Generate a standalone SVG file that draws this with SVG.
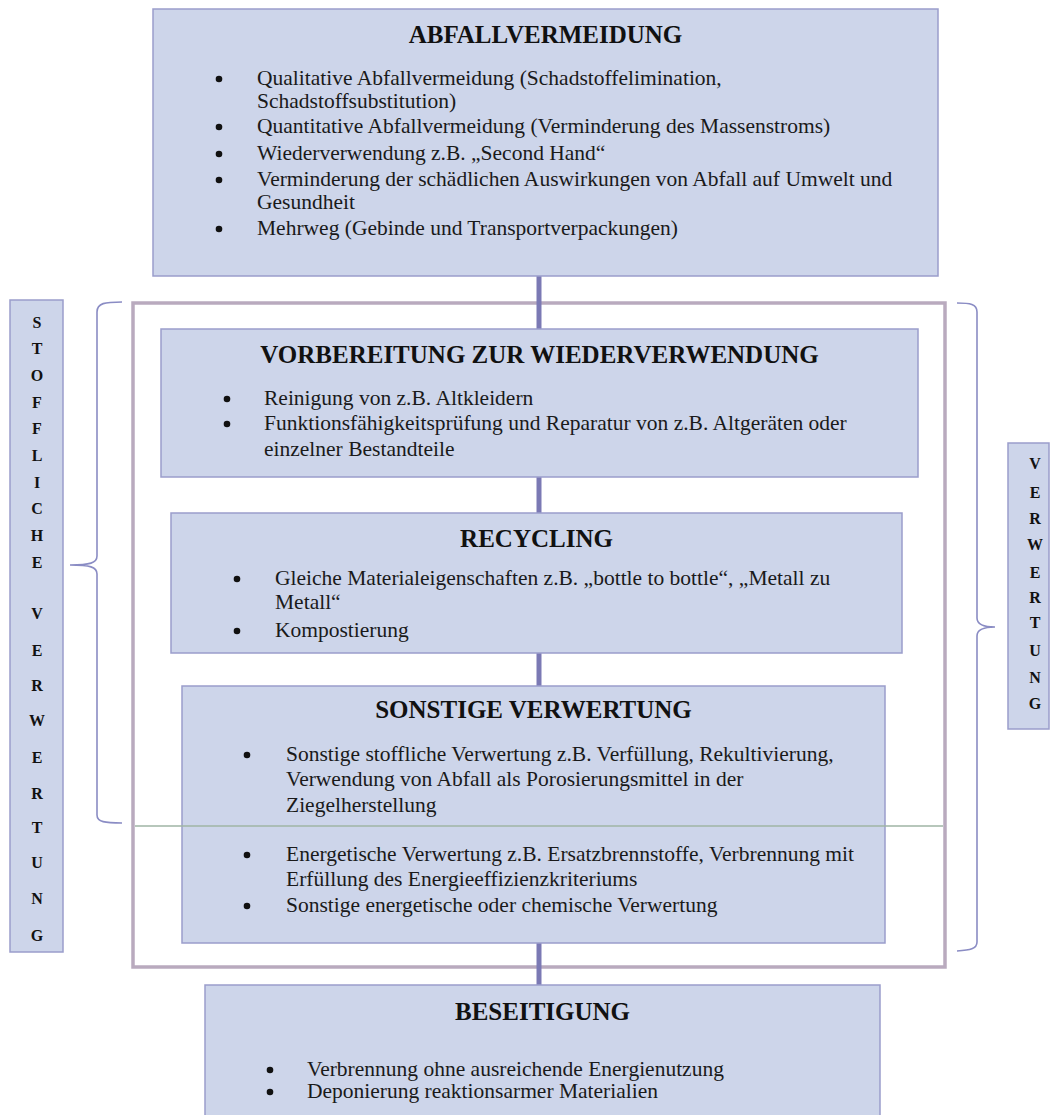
<svg xmlns="http://www.w3.org/2000/svg" width="1050" height="1115" viewBox="0 0 1050 1115">
<defs>
<style>
.box{fill:#cdd5ea;stroke:#9a9dcb;stroke-width:1.5}
.title{font-family:"Liberation Serif","Times New Roman",serif;font-weight:bold;font-size:25px;fill:#111;text-anchor:middle}
.t{font-family:"Liberation Serif","Times New Roman",serif;font-size:21.5px;fill:#1a1a1a}
.bul{fill:#111}
.lab{font-family:"Liberation Serif","Times New Roman",serif;font-weight:bold;font-size:16px;fill:#111;text-anchor:middle}
.conn{stroke:#7b79b4;stroke-width:5;fill:none}
.brace{stroke:#8a8cc4;stroke-width:1.6;fill:none}
</style>
</defs>
<rect width="1050" height="1115" fill="#ffffff"/>

<g id="frame">
<rect x="133" y="303" width="812" height="664" fill="none" stroke="#b9aabe" stroke-width="3.5"/>
</g>

<g id="connectors">
<line class="conn" x1="539" y1="276" x2="539" y2="329"/>
<line class="conn" x1="539" y1="477" x2="539" y2="513"/>
<line class="conn" x1="539" y1="653" x2="539" y2="686"/>
<line class="conn" x1="539" y1="943" x2="539" y2="985"/>
</g>

<g id="abfallvermeidung">
<rect class="box" x="153" y="9" width="785" height="267"/>
<text class="title" x="545.5" y="43">ABFALLVERMEIDUNG</text>
<circle class="bul" cx="219" cy="79" r="3.3"/>
<text class="t" x="257" y="85">Qualitative Abfallvermeidung (Schadstoffelimination,</text>
<text class="t" x="257" y="108">Schadstoffsubstitution)</text>
<circle class="bul" cx="219" cy="127" r="3.3"/>
<text class="t" x="257" y="133">Quantitative Abfallvermeidung (Verminderung des Massenstroms)</text>
<circle class="bul" cx="219" cy="154" r="3.3"/>
<text class="t" x="257" y="160">Wiederverwendung z.B. „Second Hand“</text>
<circle class="bul" cx="219" cy="180" r="3.3"/>
<text class="t" x="257" y="186">Verminderung der schädlichen Auswirkungen von Abfall auf Umwelt und</text>
<text class="t" x="257" y="209">Gesundheit</text>
<circle class="bul" cx="219" cy="229" r="3.3"/>
<text class="t" x="257" y="235">Mehrweg (Gebinde und Transportverpackungen)</text>
</g>

<g id="vorbereitung">
<rect class="box" x="161" y="329" width="757" height="148"/>
<text class="title" x="539.5" y="363">VORBEREITUNG ZUR WIEDERVERWENDUNG</text>
<circle class="bul" cx="227" cy="399" r="3.3"/>
<text class="t" x="264" y="405">Reinigung von z.B. Altkleidern</text>
<circle class="bul" cx="227" cy="424" r="3.3"/>
<text class="t" x="264" y="430">Funktionsfähigkeitsprüfung und Reparatur von z.B. Altgeräten oder</text>
<text class="t" x="264" y="456">einzelner Bestandteile</text>
</g>

<g id="recycling">
<rect class="box" x="171" y="513" width="731" height="140"/>
<text class="title" x="536.5" y="547">RECYCLING</text>
<circle class="bul" cx="237" cy="579" r="3.3"/>
<text class="t" x="275" y="585">Gleiche Materialeigenschaften z.B. „bottle to bottle“, „Metall zu</text>
<text class="t" x="275" y="609">Metall“</text>
<circle class="bul" cx="237" cy="631" r="3.3"/>
<text class="t" x="275" y="637">Kompostierung</text>
</g>

<g id="sonstige">
<rect class="box" x="182" y="686" width="703" height="257"/>
<text class="title" x="533.5" y="718">SONSTIGE VERWERTUNG</text>
<circle class="bul" cx="247" cy="755" r="3.3"/>
<text class="t" x="286" y="761">Sonstige stoffliche Verwertung z.B. Verfüllung, Rekultivierung,</text>
<text class="t" x="286" y="786">Verwendung von Abfall als Porosierungsmittel in der</text>
<text class="t" x="286" y="812">Ziegelherstellung</text>
<circle class="bul" cx="247" cy="855" r="3.3"/>
<text class="t" x="286" y="861">Energetische Verwertung z.B. Ersatzbrennstoffe, Verbrennung mit</text>
<text class="t" x="286" y="886">Erfüllung des Energieeffizienzkriteriums</text>
<circle class="bul" cx="247" cy="906" r="3.3"/>
<text class="t" x="286" y="912">Sonstige energetische oder chemische Verwertung</text>
</g>

<g id="divider">
<line x1="135" y1="826" x2="943" y2="826" stroke="#9fb5a5" stroke-width="1.5"/>
</g>

<g id="beseitigung">
<rect class="box" x="205" y="985" width="675" height="140"/>
<text class="title" x="542.5" y="1020">BESEITIGUNG</text>
<circle class="bul" cx="270" cy="1070" r="3.3"/>
<text class="t" x="307" y="1076">Verbrennung ohne ausreichende Energienutzung</text>
<circle class="bul" cx="270" cy="1092" r="3.3"/>
<text class="t" x="307" y="1098">Deponierung reaktionsarmer Materialien</text>
</g>

<g id="stoffliche-verwertung">
<rect class="box" x="10" y="300" width="53" height="652"/>
<text class="lab" x="37" y="328">S</text>
<text class="lab" x="37" y="354">T</text>
<text class="lab" x="37" y="381">O</text>
<text class="lab" x="37" y="408">F</text>
<text class="lab" x="37" y="434">F</text>
<text class="lab" x="37" y="461">L</text>
<text class="lab" x="37" y="488">I</text>
<text class="lab" x="37" y="514">C</text>
<text class="lab" x="37" y="541">H</text>
<text class="lab" x="37" y="568">E</text>
<text class="lab" x="37" y="619">V</text>
<text class="lab" x="37" y="656">E</text>
<text class="lab" x="37" y="691">R</text>
<text class="lab" x="37" y="726">W</text>
<text class="lab" x="37" y="763">E</text>
<text class="lab" x="37" y="799">R</text>
<text class="lab" x="37" y="833">T</text>
<text class="lab" x="37" y="868">U</text>
<text class="lab" x="37" y="904">N</text>
<text class="lab" x="37" y="941">G</text>
</g>

<g id="verwertung">
<rect class="box" x="1008" y="443" width="41" height="286"/>
<text class="lab" x="1035" y="469">V</text>
<text class="lab" x="1035" y="498">E</text>
<text class="lab" x="1035" y="524">R</text>
<text class="lab" x="1035" y="550">W</text>
<text class="lab" x="1035" y="578">E</text>
<text class="lab" x="1035" y="603">R</text>
<text class="lab" x="1035" y="628">T</text>
<text class="lab" x="1035" y="656">U</text>
<text class="lab" x="1035" y="683">N</text>
<text class="lab" x="1035" y="709">G</text>
</g>

<g id="braces">
<path class="brace" d="M122,302 C105,302 97,303 97,312 L97,556 C97,563 90,565 70,565 C90,565 97,567 97,574 L97,815 C97,822 105,823 122,823"/>
<path class="brace" d="M957,303 C970,303 977,304 977,312 L977,618 C977,625 984,627 995,627 C984,627 977,629 977,636 L977,942 C977,949 970,950 957,951"/>
</g>
</svg>
